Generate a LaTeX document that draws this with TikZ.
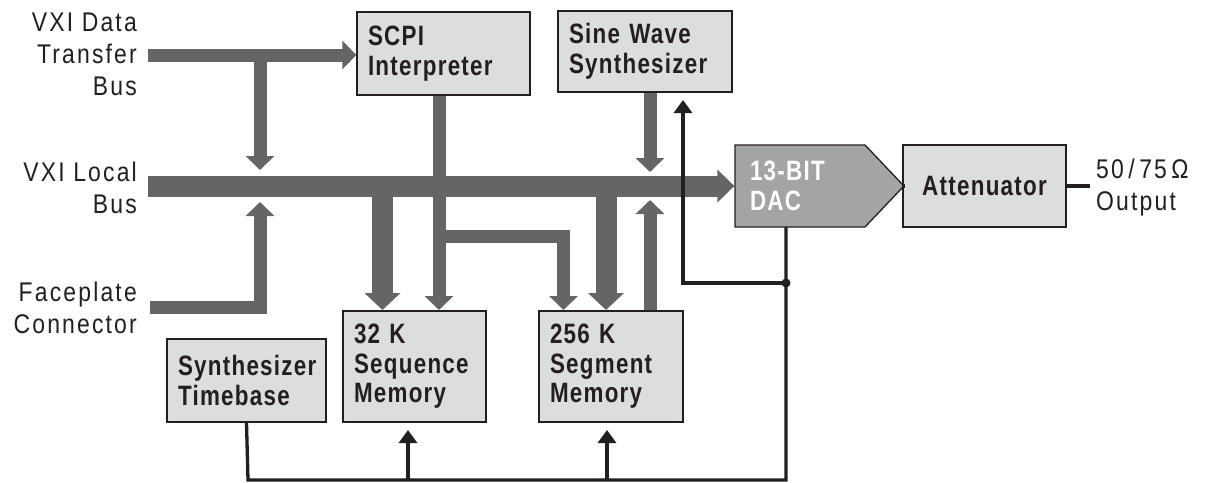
\documentclass[tikz,border=0pt]{standalone}
\usepackage{fontspec}
\setmainfont{Liberation Sans}[FakeStretch=0.85, LetterSpace=8]
\newfontfamily\bcond{Liberation Sans}[FakeStretch=0.8, LetterSpace=4.5]
\usetikzlibrary{arrows.meta,shapes.symbols,backgrounds}
\definecolor{arrowgray}{HTML}{646567}
\definecolor{boxfill}{HTML}{DCDDDE}
\definecolor{dacfill}{HTML}{A3A4A6}
\definecolor{ink}{HTML}{231F20}
\tikzset{
  box/.style={draw=ink, fill=boxfill, line width=1.3pt, inner xsep=11pt, inner ysep=0pt,
    align=left, text width=#1, font=\bcond\bfseries\fontsize{28}{29.5}\selectfont, text=ink},
  lbl/.style={inner sep=0pt, align=right, anchor=east, font=\fontsize{27}{32}\selectfont, text=ink},
  fat/.style={draw=arrowgray, line width=21pt, -{Triangle[width=35pt,length=17pt]}},
  slim/.style={draw=arrowgray, line width=13pt, line join=miter, -{Triangle[width=28pt,length=14pt]}},
  sig/.style={draw=ink, line width=3.3pt},
  sigarrow/.style={draw=ink, line width=3.3pt, -{Triangle[width=18pt,length=13pt]}},
  dot/.style={circle, fill=ink, inner sep=0pt, minimum size=9pt},
}
\begin{document}
\begin{tikzpicture}[x=1pt,y=-1pt]
\useasboundingbox (0,0) rectangle (1206,482);

% left labels
\node[lbl] (vxidata) at (137,54) {VXI Data\\Transfer\\Bus};
\node[lbl] (vxilocal) at (137,188) {VXI Local\\Bus};
\node[lbl] (faceplate) at (137,308) {Faceplate\\Connector};

% boxes
\node[box=151, minimum height=83pt] (scpi) at (443.5,53.5) {SCPI\\Interpreter};
\node[box=152, minimum height=81pt] (sine) at (645,51.5) {Sine Wave\\Synthesizer};
\node[box=137, minimum height=83pt] (timebase) at (246.5,380.5) {Synthesizer\\Timebase};
\node[box=121, minimum height=111pt] (seq) at (414.5,366.5) {32 K\\Sequence\\Memory};
\node[box=122, minimum height=111pt] (seg) at (611,366.5) {256 K\\Segment\\Memory};
\node[box=141, minimum height=82pt, align=center] (att) at (984.5,186) {Attenuator};
\node[signal, signal to=east, signal pointer angle=93, draw=ink, fill=dacfill, line width=1.3pt,
      minimum width=146pt, minimum height=82pt, inner xsep=15pt, inner ysep=0pt,
      text width=100pt, align=left, text=white, font=\bcond\bfseries\fontsize{28}{29.5}\selectfont]
      (dac) at (800,186) {13-BIT\\DAC};
\node[inner sep=0pt, anchor=west, align=left, font=\fontsize{27}{32}\selectfont, text=ink]
      (out) at (1096,188) {50\,/\,75\,Ω\\Output};

% coordinates
\coordinate (dbstart) at (148,55);
\coordinate (dbdrop) at (260,55);
\coordinate (lbstart) at (148,186);
\coordinate (lbrise) at (260,202);
\coordinate (fpstart) at (150,307);
\coordinate (fpcorner) at (260,307);
\coordinate (scpibranch) at (439,236);
\coordinate (segbranch) at (563.5,236);

% gray buses
\begin{scope}[on background layer]
\draw[slim] (dbstart) -- (scpi.west |- dbstart);
\draw[slim] (dbdrop) -- (260,170);
\draw[fat, -{Triangle[width=32pt,length=17pt]}] (lbstart) -- (dac.west |- lbstart);
\draw[slim] (fpstart) -- (fpcorner) -- (lbrise);
\draw[slim] (scpi.south -| 439,0) -- (439,310);
\draw[slim] (scpibranch) -- (segbranch) -- (563.5,310);
\draw[fat] (382.5,186) -- (382.5,310);
\draw[fat] (606,186) -- (606,310);
\draw[slim] (sine.south -| 650,0) -- (650,172);
\draw[slim] (650,311) -- (650,200);
\end{scope}

% black signal lines
\coordinate (dacdown) at (786,227);
\coordinate (fbjoin) at (786,283);
\coordinate (fbcorner) at (683,283);
\coordinate (busend) at (786,480);
\coordinate (busstart) at (248,480);
\coordinate (seqtap) at (408,480);
\coordinate (segtap) at (607,480);
\draw[sig] (dac.east) -- (att.west);
\draw[sig] (att.east) -- (1090,186);
\draw[sig, line join=miter] (timebase.south) -- (busstart) -- (busend) -- (dacdown);
\draw[sigarrow, line join=miter] (fbjoin) -- (fbcorner) -- (683,100);
\draw[sigarrow] (seqtap) -- (408,430);
\draw[sigarrow] (segtap) -- (607,430);
\node[dot] (d1) at (fbjoin) {};
\end{tikzpicture}
\end{document}
